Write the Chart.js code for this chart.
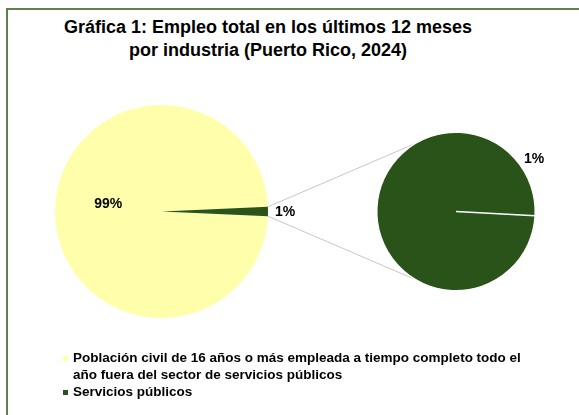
<!DOCTYPE html>
<html>
<head>
<meta charset="utf-8">
<script src="https://cdn.jsdelivr.net/npm/chart.js@4.4.1/dist/chart.umd.min.js"></script>
<style>
  html, body { margin: 0; padding: 0; background: #fff; }
  #wrap { position: relative; width: 579px; height: 415px; overflow: hidden; font-family: Arial, "Liberation Sans", sans-serif; }
  #frame { position: absolute; left: 6px; top: 8px; width: 700px; height: 500px; border-left: 2px solid #5f8050; border-top: 2px solid #5f8050; }
  canvas { position: absolute; left: 0; top: 0; }
  #title { position: absolute; left: 0; width: 536px; top: 16px; text-align: center; font-weight: bold; font-size: 18px; line-height: 23px; color: #000; }
  #legend { position: absolute; left: 60px; top: 349px; font-weight: bold; font-size: 13.5px; line-height: 17px; color: #000; }
  .item { position: relative; padding-left: 13px; width: 466px; }
  .box { position: absolute; left: 3px; top: 7px; width: 5px; height: 5px; }
</style>
</head>
<body>
<div id="wrap">
  <div id="frame"></div>
  <div id="title">Gráfica 1: Empleo total en los últimos 12 meses<br>por industria (Puerto Rico, 2024)</div>
  <canvas id="mainPie" width="579" height="415"></canvas>
  <canvas id="subPie" width="579" height="415"></canvas>
  <div id="legend"></div>
</div>
<script>
// data
const categories = [
  'Población civil de 16 años o más empleada a tiempo completo todo el año fuera del sector de servicios públicos',
  'Servicios públicos'
]
const mainValues = [98.6, 1.4]      // % of total employment (second slice expanded on the right)
const subLabels = ['Servicios públicos']
const subValues = [1.4]
const mainLabelText = ['99%', '1%']
const subLabelText = ['1%']

const colors = ['#ffffab', '#2a531a']

// left pie: rotate so the small slice is centred at 3 o'clock
const mainTotal = mainValues.reduce((a, b) => a + b, 0)
const smallAngle = mainValues[1] / mainTotal * 360

const labelFont = 'bold 14px Arial, "Liberation Sans", sans-serif'

// draws the percentage labels; each entry: where to put it relative to the arc
const pctLabels = {
  id: 'pctLabels',
  afterDatasetsDraw(chart, args, opts) {
    const ctx = chart.ctx
    const arcs = chart.getDatasetMeta(0).data
    ctx.save()
    ctx.font = labelFont
    ctx.fillStyle = '#000'
    ctx.textAlign = 'center'
    ctx.textBaseline = 'middle'
    opts.items.forEach((it, i) => {
      const arc = arcs[i]
      const mid = it.angle !== undefined ? it.angle * Math.PI / 180 : (arc.startAngle + arc.endAngle) / 2
      const r = arc.outerRadius * it.r + (it.extra || 0)
      ctx.fillText(opts.text[i], arc.x + Math.cos(mid) * r + (it.dx || 0), arc.y + Math.sin(mid) * r + (it.dy || 0))
    })
    ctx.restore()
  }
}

const mainChart = new Chart(document.getElementById('mainPie'), {
  type: 'pie',
  data: {
    labels: categories,
    datasets: [{
      data: mainValues,
      backgroundColor: colors,
      borderWidth: 0
    }]
  },
  options: {
    responsive: false,
    animation: false,
    rotation: 90 + smallAngle / 2,
    layout: { padding: { left: 55, right: 311, top: 105, bottom: 97 } },
    plugins: {
      legend: { display: false },
      tooltip: { enabled: false },
      pctLabels: {
        text: mainLabelText,
        items: [{ r: 0.5, dy: -7 }, { r: 1, extra: 17, dy: 1 }]
      }
    }
  },
  plugins: [pctLabels]
})

// connector lines from the small slice to the second pie
const connectors = {
  id: 'connectors',
  beforeDatasetsDraw(chart) {
    const src = mainChart.getDatasetMeta(0).data[1]
    const dst = chart.getDatasetMeta(0).data[0]
    if (!src || !dst) return
    const spread = 59 * Math.PI / 180
    const ctx = chart.ctx
    ctx.save()
    ctx.strokeStyle = '#c6c6c6'
    ctx.lineWidth = 1
    ctx.beginPath()
    ctx.moveTo(src.x + Math.cos(src.startAngle) * src.outerRadius, src.y + Math.sin(src.startAngle) * src.outerRadius)
    ctx.lineTo(dst.x + Math.cos(Math.PI + spread) * dst.outerRadius, dst.y + Math.sin(Math.PI + spread) * dst.outerRadius)
    ctx.moveTo(src.x + Math.cos(src.endAngle) * src.outerRadius, src.y + Math.sin(src.endAngle) * src.outerRadius)
    ctx.lineTo(dst.x + Math.cos(Math.PI - spread) * dst.outerRadius, dst.y + Math.sin(Math.PI - spread) * dst.outerRadius)
    ctx.stroke()
    ctx.restore()
  }
}

new Chart(document.getElementById('subPie'), {
  type: 'pie',
  data: {
    labels: subLabels,
    datasets: [{
      data: subValues,
      backgroundColor: colors[1],
      borderColor: '#ffffff',
      borderWidth: 1.5
    }]
  },
  options: {
    responsive: false,
    animation: false,
    rotation: 93,
    layout: { padding: { left: 376, right: 43, top: 131, bottom: 123 } },
    plugins: {
      legend: { display: false },
      tooltip: { enabled: false },
      pctLabels: {
        text: subLabelText,
        items: [{ angle: -34, r: 1, extra: 15 }]
      }
    }
  },
  plugins: [connectors, pctLabels]
})

// html legend built from the same arrays
const legendEl = document.getElementById('legend')
categories.forEach((name, i) => {
  const item = document.createElement('div')
  item.className = 'item'
  const box = document.createElement('span')
  box.className = 'box'
  box.style.background = colors[i]
  item.appendChild(box)
  item.appendChild(document.createTextNode(name))
  legendEl.appendChild(item)
})
</script>
</body>
</html>
